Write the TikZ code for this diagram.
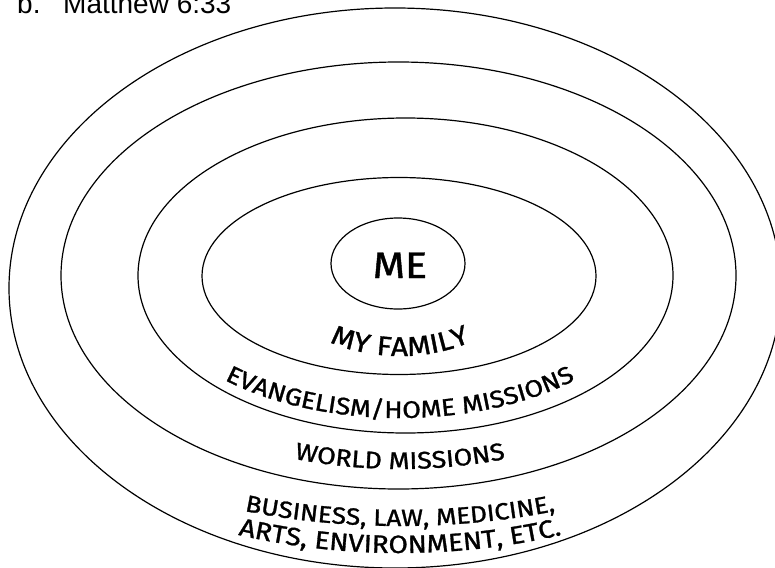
\documentclass[tikz,border=0pt]{standalone}
\usepackage{fontspec}
\setmainfont{Liberation Sans}
\newfontfamily\ringfont[FakeStretch=1.12, FakeBold=1.2]{Fira Sans}
\usetikzlibrary{decorations.text}

\begin{document}
\begin{tikzpicture}[x=1pt,y=1pt,yscale=-1,xscale=1,
  ring/.style={draw, line width=1.2pt},
  ringtext/.style={decorate, decoration={text along path, text align=center}}]
\useasboundingbox (0,0) rectangle (775,567);

%Shape: Ellipse
\draw [ring] (395,288) ellipse [x radius=386, y radius=280];
%Shape: Ellipse
\draw [ring] (398.5,275.5) ellipse [x radius=337.5, y radius=213.5];
%Shape: Ellipse
\draw [ring] (405.5,275.5) ellipse [x radius=267.5, y radius=157.5];
%Shape: Ellipse
\draw [ring] (399,276) ellipse [x radius=197, y radius=98.5];
%Shape: Ellipse
\draw [ring] (398,263.5) ellipse [x radius=67, y radius=45.5];

% Text Node
\node [anchor=base west, inner sep=0pt] (item) at (17,14) {\fontsize{28}{28}\selectfont b.};
% Text Node
\node [anchor=base west, inner sep=0pt] (verse) at (63,14) {\fontsize{28}{28}\selectfont Matthew 6:33};
% Text Node
\node [anchor=base, inner sep=0pt] (me) at (400,278) {\fontsize{37}{37}\ringfont ME};

% Text along the rings
\path [ringtext, decoration={text={|\fontsize{27}{27}\ringfont|MY FAMILY}}] (400,268) ++(150:130 and 88) arc [start angle=150, end angle=30, x radius=130, y radius=88];
\path [ringtext, decoration={text={|\fontsize{24}{24}\ringfont|EVANGELISM/HOME MISSIONS}}] (400,275) ++(160:258 and 143) arc [start angle=160, end angle=20, x radius=258, y radius=143];
\path [ringtext, decoration={text={|\fontsize{24}{24}\ringfont|WORLD MISSIONS}}] (400,275) ++(150:330 and 194) arc [start angle=150, end angle=30, x radius=330, y radius=194];
\path [ringtext, decoration={text={|\fontsize{23.5}{23.5}\ringfont|BUSINESS, LAW, MEDICINE,}}] (400,275) ++(140:456 and 251) arc [start angle=140, end angle=40, x radius=456, y radius=251];
\path [ringtext, decoration={text={|\fontsize{25}{25}\ringfont|ARTS, ENVIRONMENT, ETC.}}] (400,275) ++(140:455 and 278) arc [start angle=140, end angle=40, x radius=455, y radius=278];

\end{tikzpicture}
\end{document}
